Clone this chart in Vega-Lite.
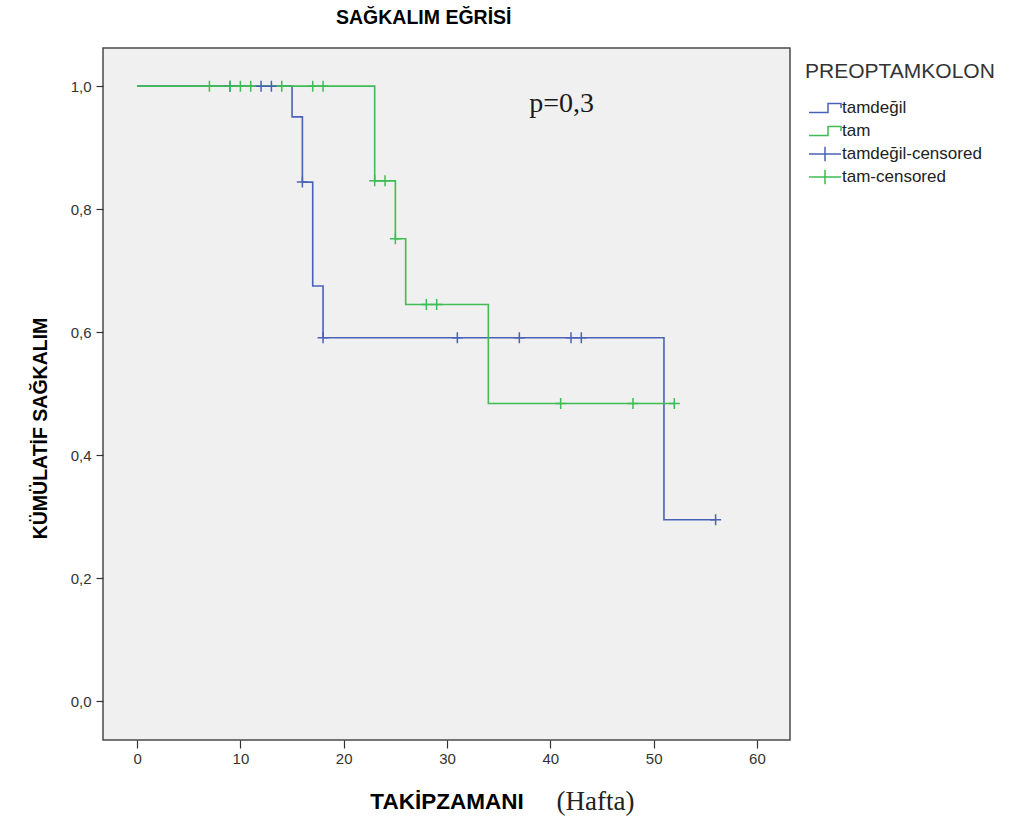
{
  "$schema": "https://vega.github.io/schema/vega-lite/v6.json",
  "width": 687,
  "height": 692,
  "autosize": "none",
  "padding": {"left": 103, "top": 48, "right": 226, "bottom": 79},
  "background": "white",
  "view": {"fill": "#f0f0f0", "stroke": "#4a4a4a", "strokeWidth": 1.5},
  "title": {"text": "SAĞKALIM EĞRİSİ", "anchor": "start", "frame": "group", "dx": 233, "offset": 5, "baseline": "alphabetic", "font": "Liberation Sans", "fontSize": 19.5, "fontWeight": "bold", "color": "#000"},
  "datasets": {
    "curves": [
      {"grp": "tamdeğil", "time": 0, "surv": 1},
      {"grp": "tamdeğil", "time": 15, "surv": 0.95},
      {"grp": "tamdeğil", "time": 16, "surv": 0.844},
      {"grp": "tamdeğil", "time": 17, "surv": 0.675},
      {"grp": "tamdeğil", "time": 18, "surv": 0.591},
      {"grp": "tamdeğil", "time": 51, "surv": 0.295},
      {"grp": "tamdeğil", "time": 56, "surv": 0.295},
      {"grp": "tam", "time": 0, "surv": 1},
      {"grp": "tam", "time": 23, "surv": 0.846},
      {"grp": "tam", "time": 25, "surv": 0.752},
      {"grp": "tam", "time": 26, "surv": 0.645},
      {"grp": "tam", "time": 34, "surv": 0.484},
      {"grp": "tam", "time": 52, "surv": 0.484}
    ],
    "censored": [
      {"grp": "tamdeğil-censored", "time": 9, "surv": 1},
      {"grp": "tamdeğil-censored", "time": 12, "surv": 1},
      {"grp": "tamdeğil-censored", "time": 13, "surv": 1},
      {"grp": "tamdeğil-censored", "time": 16, "surv": 0.844},
      {"grp": "tamdeğil-censored", "time": 18, "surv": 0.591},
      {"grp": "tamdeğil-censored", "time": 31, "surv": 0.591},
      {"grp": "tamdeğil-censored", "time": 37, "surv": 0.591},
      {"grp": "tamdeğil-censored", "time": 42, "surv": 0.591},
      {"grp": "tamdeğil-censored", "time": 43, "surv": 0.591},
      {"grp": "tamdeğil-censored", "time": 56, "surv": 0.295},
      {"grp": "tam-censored", "time": 7, "surv": 1},
      {"grp": "tam-censored", "time": 9, "surv": 1},
      {"grp": "tam-censored", "time": 10, "surv": 1},
      {"grp": "tam-censored", "time": 11, "surv": 1},
      {"grp": "tam-censored", "time": 14, "surv": 1},
      {"grp": "tam-censored", "time": 17, "surv": 1},
      {"grp": "tam-censored", "time": 18, "surv": 1},
      {"grp": "tam-censored", "time": 23, "surv": 0.846},
      {"grp": "tam-censored", "time": 24, "surv": 0.846},
      {"grp": "tam-censored", "time": 25, "surv": 0.752},
      {"grp": "tam-censored", "time": 28, "surv": 0.645},
      {"grp": "tam-censored", "time": 29, "surv": 0.645},
      {"grp": "tam-censored", "time": 41, "surv": 0.484},
      {"grp": "tam-censored", "time": 48, "surv": 0.484},
      {"grp": "tam-censored", "time": 52, "surv": 0.484}
    ],
    "notes": [
      {"label": "p=0,3", "time": 41.1, "surv": 0.958}
    ]
  },
  "layer": [
    {
      "encoding": {
        "x": {
          "field": "time", "type": "quantitative",
          "scale": {"domain": [-3.3, 63.2], "nice": false, "zero": false},
          "axis": {
            "title": "TAKİPZAMANI", "values": [0, 10, 20, 30, 40, 50, 60],
            "grid": false, "domain": false, "tickSize": 8, "tickColor": "#333", "tickWidth": 1.2,
            "labelPadding": 3, "labelFont": "Liberation Sans", "labelFontSize": 15, "labelColor": "#333",
            "titleY": 68, "titleBaseline": "alphabetic", "titleFont": "Liberation Sans", "titleFontSize": 22.5, "titleFontWeight": "bold", "titleColor": "#000"
          }
        },
        "y": {
          "field": "surv", "type": "quantitative",
          "scale": {"domain": [-0.063, 1.062], "nice": false, "zero": false},
          "axis": {
            "title": "KÜMÜLATİF SAĞKALIM", "values": [0, 0.2, 0.4, 0.6, 0.8, 1],
            "labelExpr": "replace(format(datum.value, '.1f'), '.', ',')",
            "grid": false, "domain": false, "tickSize": 7, "tickColor": "#333", "tickWidth": 1.2,
            "labelPadding": 5, "labelFont": "Liberation Sans", "labelFontSize": 15, "labelColor": "#333",
            "titleX": -57, "titleY": 380, "titleAngle": -90, "titleAlign": "center", "titleBaseline": "alphabetic",
            "titleFont": "Liberation Sans", "titleFontSize": 19.5, "titleFontWeight": "bold", "titleColor": "#000"
          }
        },
        "color": {
          "field": "grp", "type": "nominal",
          "scale": {"domain": ["tamdeğil", "tam", "tamdeğil-censored", "tam-censored"], "range": ["#4a62b5", "#3fbc55", "#4a62b5", "#3fbc55"]},
          "legend": {
            "orient": "none", "legendX": 702, "legendY": 13, "padding": 0,
            "title": "PREOPTAMKOLON", "titleLimit": 400, "titleFont": "Liberation Sans", "titleFontSize": 21, "titleFontWeight": "normal", "titleColor": "#333", "titlePadding": 17,
            "labelFont": "Liberation Sans", "labelFontSize": 17, "labelColor": "#222", "labelOffset": 19, "labelLimit": 400,
            "symbolSize": 256, "symbolStrokeWidth": 1.5, "rowPadding": 1, "gridAlign": "all",
            "encode": {
              "symbols": {
                "update": {
                  "shape": {"signal": "indexof(datum.value, 'censored') >= 0 ? 'M-0.625,0H3.375M1.375,-0.9V0.9' : 'M-0.625,0.56H1.75V-0.56H3.375V0'"},
                  "fill": {"value": "transparent"},
                  "strokeWidth": {"value": 1.5}
                }
              }
            }
          }
        }
      },
      "layer": [
        {"data": {"name": "curves"}, "transform": [{"filter": "datum.grp === 'tamdeğil'"}], "mark": {"type": "line", "interpolate": "step-after", "strokeWidth": 1.6}},
        {"data": {"name": "curves"}, "transform": [{"filter": "datum.grp === 'tam'"}], "mark": {"type": "line", "interpolate": "step-after", "strokeWidth": 1.6}},
        {"data": {"name": "censored"}, "transform": [{"filter": "datum.grp === 'tamdeğil-censored'"}], "mark": {"type": "point", "shape": "M-1,0H1M0,-1V1", "size": 121, "filled": false, "strokeWidth": 1.5, "opacity": 1}},
        {"data": {"name": "censored"}, "transform": [{"filter": "datum.grp === 'tam-censored'"}], "mark": {"type": "point", "shape": "M-1,0H1M0,-1V1", "size": 121, "filled": false, "strokeWidth": 1.5, "opacity": 1}}
      ]
    },
    {
      "data": {"name": "notes"},
      "mark": {"type": "text", "font": "Liberation Serif", "fontSize": 28, "baseline": "alphabetic", "align": "center", "color": "#1a1a1a"},
      "encoding": {
        "x": {
          "field": "time", "type": "quantitative",
          "scale": {"domain": [-3.3, 63.2], "nice": false, "zero": false},
          "axis": {
            "orient": "top", "title": "(Hafta)", "labels": false, "ticks": false, "domain": false, "grid": false,
            "titleX": 492, "titleY": 761, "titleAlign": "center", "titleBaseline": "alphabetic",
            "titleFont": "Liberation Serif", "titleFontSize": 27, "titleFontWeight": "normal", "titleColor": "#222"
          }
        },
        "y": {"field": "surv", "type": "quantitative"},
        "text": {"field": "label"}
      }
    }
  ],
  "resolve": {"scale": {"x": "independent"}, "axis": {"x": "independent"}}
}
